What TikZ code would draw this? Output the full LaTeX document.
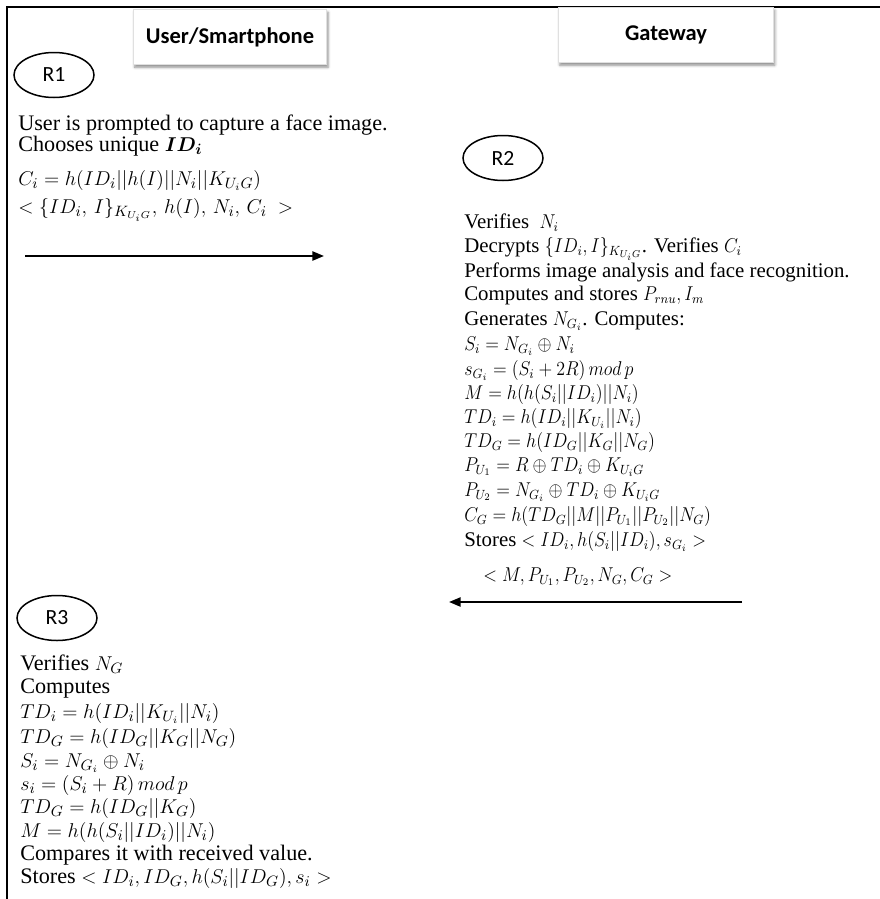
\documentclass[tikz,border=0pt]{standalone}
\usepackage{fontspec}
\usepackage{bm}
\usepackage{graphicx}
\setmainfont{Liberation Serif}
\newfontfamily\hdrfont{Carlito}
\newcommand{\gwm}[1]{{\fontsize{12}{14}\selectfont\scalebox{0.9}[1]{$#1$}}}
\newcommand{\usm}[1]{{\fontsize{12.8}{15}\selectfont$#1$}}
\usetikzlibrary{arrows.meta,shapes.geometric,shadows.blur}
\begin{document}
\begin{tikzpicture}[x=0.6pt,y=-0.6pt,
  frameline/.style={line width=1.3pt},
  hdrbox/.style={draw=black!12,fill=white,line width=0.3pt,minimum height=33pt,
    font=\hdrfont\bfseries\fontsize{13.5}{15}\selectfont,
    blur shadow={shadow xshift=0.8pt,shadow yshift=-1.6pt,shadow blur radius=1.6pt,shadow opacity=45}},
  roundlbl/.style={draw,ellipse,line width=0.9pt,minimum width=48pt,minimum height=27pt,inner sep=0pt,
    font=\hdrfont\fontsize{13}{15}\selectfont},
  ltxt/.style={anchor=base west,inner sep=0pt,font=\fontsize{13.3}{15}\selectfont},
  rtxt/.style={anchor=base west,inner sep=0pt,font=\fontsize{12.5}{14}\selectfont},
  msgarrow/.style={line width=1.2pt,-{Triangle[length=7pt,width=5.5pt]}}]
\useasboundingbox (0,0) rectangle (880,899);
% frame
\coordinate (fA) at (7,899);
\coordinate (fB) at (7,7);
\coordinate (fC) at (880,7);
\draw[frameline] (fA) -- (fB) -- (fC);
% headers
\node[hdrbox,minimum width=116pt] (hU) at (230,37) {User/Smartphone};
\node[hdrbox,minimum width=129pt] (hG) at (666,35) {Gateway};
% R1
\node[roundlbl] (r1) at (54,75) {R1};
\node[ltxt] (u1) at (18,130) {User is prompted to capture a face image.};
\node[ltxt] (u2) at (18,151) {Chooses unique \usm{\bm{ID_i}}};
\node[ltxt] (u3) at (18,185) {\usm{C_i = h(ID_i||h(I)||N_i||K_{U_iG})}};
\node[ltxt] (u4) at (18,213) {\usm{<\{ID_i,\,I\}_{K_{U_iG}},\,h(I),\,N_i,\,C_i\;>}};
\coordinate (m1s) at (25,256);
\coordinate (m1e) at (324,256);
\draw[msgarrow] (m1s) -- (m1e);
% R2
\node[roundlbl] (r2) at (503,158) {R2};
\node[rtxt] (g1) at (464,228) {Verifies\ \ \gwm{N_i}};
\node[rtxt] (g2) at (464,252) {Decrypts \gwm{\{ID_i,I\}_{K_{U_iG}}}. Verifies \gwm{C_i}};
\node[rtxt] (g3) at (464,277) {Performs image analysis and face recognition.};
\node[rtxt] (g4) at (464,300) {Computes and stores \gwm{P_{rnu},I_m}};
\node[rtxt] (g5) at (464,325) {Generates \gwm{N_{G_i}}. Computes:};
\node[rtxt] (g6) at (464,350) {\gwm{S_i = N_{G_i}\oplus N_i}};
\node[rtxt] (g7) at (464,375) {\gwm{s_{G_i} = (S_i+2R)\,mod\,p}};
\node[rtxt] (g8) at (464,399) {\gwm{M = h(h(S_i||ID_i)||N_i)}};
\node[rtxt] (g9) at (464,423) {\gwm{TD_i = h(ID_i||K_{U_i}||N_i)}};
\node[rtxt] (g10) at (464,447) {\gwm{TD_G = h(ID_G||K_G||N_G)}};
\node[rtxt] (g11) at (464,471) {\gwm{P_{U_1} = R\oplus TD_i\oplus K_{U_iG}}};
\node[rtxt] (g12) at (464,496) {\gwm{P_{U_2} = N_{G_i}\oplus TD_i\oplus K_{U_iG}}};
\node[rtxt] (g13) at (464,521) {\gwm{C_G = h(TD_G||M||P_{U_1}||P_{U_2}||N_G)}};
\node[rtxt] (g14) at (464,546) {Stores \gwm{<ID_i,h(S_i||ID_i),s_{G_i}>}};
\node[rtxt] (g15) at (483,581) {\gwm{<M,P_{U_1},P_{U_2},N_G,C_G>}};
\coordinate (m2s) at (742,602);
\coordinate (m2e) at (449,602);
\draw[msgarrow] (m2s) -- (m2e);
% R3
\node[roundlbl] (r3) at (57,618) {R3};
\node[ltxt] (v1) at (20,670) {Verifies \usm{N_G}};
\node[ltxt] (v2) at (20,693) {Computes};
\node[ltxt] (v3) at (20,718) {\usm{TD_i = h(ID_i||K_{U_i}||N_i)}};
\node[ltxt] (v4) at (20,743) {\usm{TD_G = h(ID_G||K_G||N_G)}};
\node[ltxt] (v5) at (20,767) {\usm{S_i = N_{G_i}\oplus N_i}};
\node[ltxt] (v6) at (20,790) {\usm{s_i = (S_i+R)\,mod\,p}};
\node[ltxt] (v7) at (20,813) {\usm{TD_G = h(ID_G||K_G)}};
\node[ltxt] (v8) at (20,837) {\usm{M = h(h(S_i||ID_i)||N_i)}};
\node[ltxt] (v9) at (20,860) {Compares it with received value.};
\node[ltxt] (v10) at (20,883) {Stores \usm{<ID_i,ID_G,h(S_i||ID_G),s_i>}};
\end{tikzpicture}
\end{document}
